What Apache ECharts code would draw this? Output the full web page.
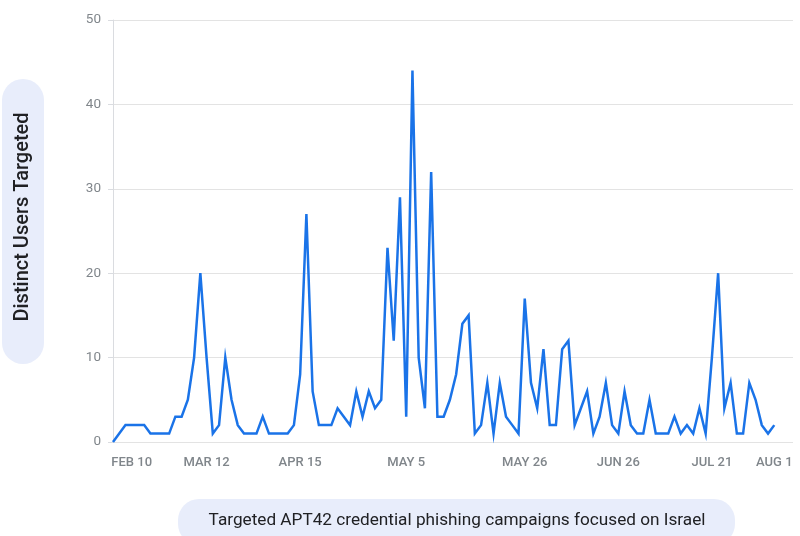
<!DOCTYPE html>
<html>
<head>
<meta charset="utf-8">
<script src="https://cdn.jsdelivr.net/npm/echarts@6/dist/echarts.min.js"></script>
<style>
  html, body { margin: 0; padding: 0; background: #ffffff; }
  #chart { width: 800px; height: 536px; }
</style>
</head>
<body>
<div id="chart"></div>
<script>
// Distinct users targeted per campaign day
const users = [
  0, 1, 2, 2, 2, 2, 1, 1, 1, 1,
  3, 3, 5, 10, 20, 10, 1, 2, 10, 5,
  2, 1, 1, 1, 3, 1, 1, 1, 1, 2,
  8, 27, 6, 2, 2, 2, 4, 3, 2, 6,
  3, 6, 4, 5, 23, 12, 29, 3, 44, 10,
  4, 32, 3, 3, 5, 8, 14, 15, 1, 2,
  7, 1, 7, 3, 2, 1, 17, 7, 4, 11,
  2, 2, 11, 12, 2, 4, 6, 1, 3, 7,
  2, 1, 6, 2, 1, 1, 5, 1, 1, 1,
  3, 1, 2, 1, 4, 1, 10, 20, 4, 7,
  1, 1, 7, 5, 2, 1, 2
];
// Tick labels shown on the x axis, keyed by point index
const tickLabelIndex = [3, 15, 30, 47, 66, 81, 96, 106];
const tickLabelText  = ['FEB 10', 'MAR 12', 'APR 15', 'MAY 5', 'MAY 26', 'JUN 26', 'JUL 21', 'AUG 1'];
const yTicks = [0, 10, 20, 30, 40, 50];
const yTitle = 'Distinct Users Targeted';
const xTitle = 'Targeted APT42 credential phishing campaigns focused on Israel';

// the axis runs a few empty slots past the last point, as in the reference
const slotCount = users.length + 3;
const categories = Array.from({ length: slotCount }, (_, i) => {
  const k = tickLabelIndex.indexOf(i);
  return k >= 0 ? tickLabelText[k] : '';
});

const chart = echarts.init(document.getElementById('chart'), null, { renderer: 'canvas' });
const FONT = 'Roboto, "Noto Sans", sans-serif';
chart.setOption({
  animation: false,
  backgroundColor: '#ffffff',
  grid: { left: 113, right: 7, top: 20, bottom: 94, containLabel: false },
  xAxis: {
    type: 'category',
    data: categories,
    boundaryGap: false,
    axisLine: { show: false },
    axisTick: { show: false },
    axisLabel: {
      interval: (i, v) => v !== '',
      color: '#80868b',
      fontFamily: FONT,
      fontSize: 13,
      fontWeight: 500,
      margin: 14
    },
    splitLine: { show: false }
  },
  yAxis: {
    type: 'value',
    min: yTicks[0],
    max: yTicks[yTicks.length - 1],
    interval: 10,
    axisLine: { show: true, lineStyle: { color: '#dadce0', width: 1 } },
    axisTick: { show: true, length: 5, lineStyle: { color: '#dadce0' } },
    axisLabel: { color: '#80868b', fontFamily: FONT, fontSize: 13.5, margin: 12 },
    splitLine: { show: true, lineStyle: { color: '#e3e3e3', width: 1 } }
  },
  series: [{
    type: 'line',
    data: users,
    showSymbol: false,
    symbol: 'none',
    lineStyle: { color: '#1a73e8', width: 2.5, join: 'miter' },
    itemStyle: { color: '#1a73e8' }
  }],
  graphic: [
    {
      type: 'group',
      left: 2, top: 79,
      children: [
        { type: 'rect', shape: { x: 0, y: 0, width: 42, height: 285, r: 21 }, style: { fill: '#e8edfb' } },
        {
          type: 'text', x: 21, y: 138, rotation: Math.PI / 2,
          style: { text: yTitle, fill: '#202124', font: '500 20px ' + FONT, align: 'center', verticalAlign: 'middle' }
        }
      ]
    },
    {
      type: 'group',
      left: 178, top: 499,
      children: [
        { type: 'rect', shape: { x: 0, y: 0, width: 557, height: 46, r: 21 }, style: { fill: '#e8edfb' } },
        {
          type: 'text', x: 279, y: 22,
          style: { text: xTitle, fill: '#202124', font: '400 17.2px ' + FONT, align: 'center', verticalAlign: 'middle' }
        }
      ]
    }
  ]
});
</script>
</body>
</html>
